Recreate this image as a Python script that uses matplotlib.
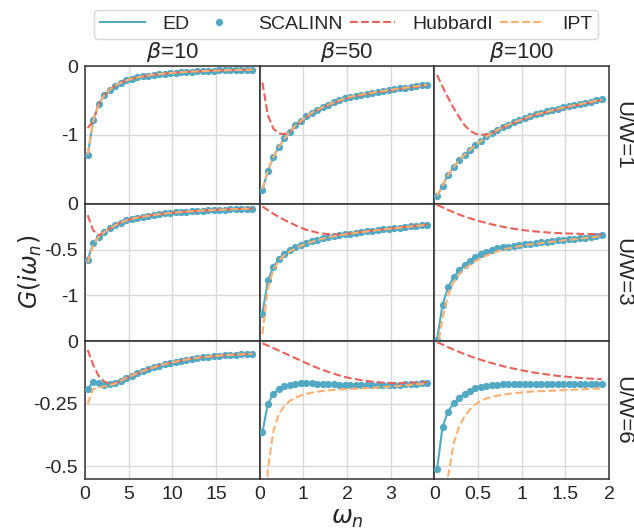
import matplotlib
matplotlib.use("Agg")
import matplotlib.pyplot as plt
from matplotlib.ticker import FormatStrFormatter

plt.rcParams['font.family'] = ['Liberation Sans', 'DejaVu Sans']
plt.rcParams['axes.unicode_minus'] = False

# Matsubara frequencies (31 points per beta)
w10 = [0.314, 0.942, 1.571, 2.199, 2.827, 3.456, 4.084, 4.712, 5.341, 5.969, 6.597,
       7.226, 7.854, 8.482, 9.111, 9.739, 10.367, 10.996, 11.624, 12.252, 12.881,
       13.509, 14.137, 14.765, 15.394, 16.022, 16.650, 17.279, 17.907, 18.535, 19.164]
w50 = [0.063, 0.188, 0.314, 0.440, 0.565, 0.691, 0.817, 0.942, 1.068, 1.194, 1.319,
       1.445, 1.571, 1.696, 1.822, 1.948, 2.073, 2.199, 2.325, 2.450, 2.576, 2.702,
       2.827, 2.953, 3.079, 3.204, 3.330, 3.456, 3.581, 3.707, 3.833]
w100 = [0.031, 0.094, 0.157, 0.220, 0.283, 0.346, 0.408, 0.471, 0.534, 0.597, 0.660,
        0.723, 0.785, 0.848, 0.911, 0.974, 1.037, 1.100, 1.162, 1.225, 1.288, 1.351,
        1.414, 1.476, 1.539, 1.602, 1.665, 1.728, 1.791, 1.853, 1.916]

betas = [10, 50, 100]
us = [1, 3, 6]

# U/W = 1
ed_u1_b10 = [-1.30, -0.79, -0.555, -0.425, -0.343, -0.285, -0.243, -0.210, -0.186, -0.167, -0.151,
             -0.138, -0.127, -0.118, -0.110, -0.102, -0.096, -0.091, -0.086, -0.081, -0.077,
             -0.074, -0.070, -0.067, -0.065, -0.062, -0.060, -0.058, -0.056, -0.054, -0.053]
hub_u1_b10 = [-0.90, -0.80, -0.560, -0.428, -0.345, -0.286, -0.244, -0.211, -0.187, -0.168, -0.152,
              -0.139, -0.128, -0.118, -0.110, -0.103, -0.097, -0.091, -0.086, -0.082, -0.078,
              -0.074, -0.071, -0.068, -0.065, -0.063, -0.060, -0.058, -0.056, -0.055, -0.053]
ipt_u1_b10 = [-1.29, -0.80, -0.560, -0.427, -0.344, -0.286, -0.244, -0.211, -0.187, -0.167, -0.151,
              -0.138, -0.127, -0.118, -0.110, -0.102, -0.096, -0.091, -0.086, -0.081, -0.077,
              -0.074, -0.070, -0.067, -0.065, -0.062, -0.060, -0.058, -0.056, -0.054, -0.053]

ed_u1_b50 = [-1.80, -1.527, -1.32, -1.18, -1.053, -0.957, -0.86, -0.793, -0.73, -0.677, -0.633,
             -0.594, -0.56, -0.526, -0.497, -0.469, -0.445, -0.43, -0.415, -0.40, -0.385,
             -0.372, -0.36, -0.348, -0.336, -0.325, -0.314, -0.303, -0.293, -0.281, -0.269]
hub_u1_b50 = [-0.24, -0.715, -0.91, -0.98, -0.99, -0.955, -0.875, -0.805, -0.74, -0.687, -0.642,
              -0.603, -0.569, -0.536, -0.507, -0.479, -0.455, -0.439, -0.424, -0.409, -0.394,
              -0.381, -0.369, -0.357, -0.345, -0.334, -0.323, -0.312, -0.301, -0.289, -0.276]
ipt_u1_b50 = [-1.79, -1.52, -1.32, -1.18, -1.055, -0.960, -0.865, -0.797, -0.734, -0.680, -0.636,
              -0.597, -0.563, -0.529, -0.500, -0.472, -0.448, -0.432, -0.417, -0.402, -0.387,
              -0.374, -0.362, -0.350, -0.338, -0.327, -0.316, -0.305, -0.295, -0.283, -0.271]

ed_u1_b100 = [-1.894, -1.739, -1.585, -1.469, -1.372, -1.29, -1.217, -1.145, -1.087, -1.024, -0.971,
              -0.925, -0.885, -0.85, -0.815, -0.785, -0.755, -0.725, -0.70, -0.68, -0.66,
              -0.64, -0.62, -0.60, -0.585, -0.565, -0.55, -0.535, -0.52, -0.50, -0.485]
hub_u1_b100 = [-0.13, -0.30, -0.46, -0.61, -0.74, -0.86, -0.94, -0.985, -1.0, -0.995, -0.975,
               -0.935, -0.895, -0.86, -0.825, -0.795, -0.765, -0.735, -0.71, -0.69, -0.67,
               -0.65, -0.63, -0.61, -0.595, -0.575, -0.56, -0.545, -0.53, -0.51, -0.495]
ipt_u1_b100 = [-1.89, -1.735, -1.585, -1.47, -1.375, -1.292, -1.22, -1.148, -1.09, -1.027, -0.974,
               -0.928, -0.888, -0.853, -0.818, -0.788, -0.758, -0.728, -0.703, -0.683, -0.663,
               -0.643, -0.623, -0.603, -0.588, -0.568, -0.553, -0.538, -0.523, -0.503, -0.488]

# U/W = 3
ed_u3_b10 = [-0.609, -0.433, -0.358, -0.31, -0.27, -0.235, -0.207, -0.183, -0.165, -0.152, -0.141,
             -0.131, -0.122, -0.114, -0.107, -0.101, -0.096, -0.091, -0.086, -0.082, -0.078,
             -0.075, -0.072, -0.069, -0.066, -0.064, -0.061, -0.059, -0.057, -0.055, -0.053]
hub_u3_b10 = [-0.125, -0.29, -0.345, -0.312, -0.271, -0.236, -0.208, -0.184, -0.166, -0.152, -0.141,
              -0.131, -0.122, -0.114, -0.107, -0.101, -0.096, -0.091, -0.086, -0.082, -0.078,
              -0.075, -0.072, -0.069, -0.066, -0.064, -0.061, -0.059, -0.057, -0.055, -0.053]
ipt_u3_b10 = [-0.645, -0.44, -0.362, -0.313, -0.272, -0.236, -0.208, -0.184, -0.166, -0.153, -0.142,
              -0.132, -0.123, -0.115, -0.108, -0.102, -0.096, -0.091, -0.086, -0.082, -0.078,
              -0.075, -0.072, -0.069, -0.066, -0.064, -0.061, -0.059, -0.057, -0.055, -0.053]

ed_u3_b50 = [-1.199, -0.837, -0.688, -0.601, -0.543, -0.507, -0.475, -0.449, -0.428, -0.41, -0.391,
             -0.377, -0.362, -0.352, -0.343, -0.334, -0.325, -0.317, -0.309, -0.301, -0.294,
             -0.287, -0.280, -0.273, -0.266, -0.260, -0.253, -0.247, -0.241, -0.235, -0.229]
hub_u3_b50 = [-0.03, -0.07, -0.11, -0.145, -0.177, -0.205, -0.235, -0.26, -0.285, -0.30, -0.315,
              -0.325, -0.332, -0.335, -0.336, -0.332, -0.324, -0.316, -0.308, -0.300, -0.293,
              -0.286, -0.279, -0.272, -0.266, -0.259, -0.253, -0.247, -0.241, -0.235, -0.228]
ipt_u3_b50 = [-1.42, -0.92, -0.72, -0.62, -0.56, -0.52, -0.485, -0.458, -0.436, -0.416, -0.397,
              -0.381, -0.366, -0.355, -0.345, -0.336, -0.327, -0.319, -0.311, -0.303, -0.296,
              -0.289, -0.282, -0.275, -0.268, -0.262, -0.255, -0.249, -0.243, -0.237, -0.231]

ed_u3_b100 = [-1.48, -1.10, -0.913, -0.804, -0.725, -0.667, -0.62, -0.58, -0.551, -0.522, -0.504,
              -0.488, -0.477, -0.467, -0.458, -0.450, -0.442, -0.435, -0.428, -0.421, -0.414,
              -0.407, -0.401, -0.395, -0.389, -0.383, -0.377, -0.370, -0.363, -0.355, -0.345]
hub_u3_b100 = [-0.013, -0.04, -0.068, -0.094, -0.118, -0.14, -0.16, -0.178, -0.195, -0.211, -0.226,
               -0.24, -0.252, -0.263, -0.273, -0.282, -0.29, -0.297, -0.303, -0.308, -0.313,
               -0.317, -0.32, -0.323, -0.325, -0.327, -0.329, -0.33, -0.331, -0.332, -0.333]
ipt_u3_b100 = [-1.60, -1.25, -1.0, -0.86, -0.77, -0.71, -0.665, -0.625, -0.594, -0.565, -0.54,
               -0.52, -0.50, -0.486, -0.474, -0.463, -0.453, -0.444, -0.436, -0.429, -0.421,
               -0.414, -0.407, -0.400, -0.394, -0.388, -0.382, -0.375, -0.368, -0.360, -0.350]

# U/W = 6
ed_u6_b10 = [-0.19, -0.162, -0.168, -0.173, -0.172, -0.167, -0.157, -0.146, -0.137, -0.128, -0.119,
             -0.111, -0.104, -0.097, -0.091, -0.086, -0.081, -0.077, -0.073, -0.069, -0.066,
             -0.063, -0.061, -0.059, -0.057, -0.055, -0.054, -0.053, -0.052, -0.051, -0.050]
hub_u6_b10 = [-0.034, -0.094, -0.138, -0.16, -0.17, -0.168, -0.158, -0.147, -0.137, -0.128, -0.119,
              -0.111, -0.104, -0.097, -0.091, -0.086, -0.081, -0.077, -0.073, -0.069, -0.066,
              -0.063, -0.061, -0.059, -0.057, -0.055, -0.054, -0.053, -0.052, -0.051, -0.050]
ipt_u6_b10 = [-0.25, -0.19, -0.185, -0.18, -0.176, -0.169, -0.158, -0.147, -0.137, -0.128, -0.119,
              -0.111, -0.104, -0.097, -0.091, -0.086, -0.081, -0.077, -0.073, -0.069, -0.066,
              -0.063, -0.061, -0.059, -0.057, -0.055, -0.054, -0.053, -0.052, -0.051, -0.050]

ed_u6_b50 = [-0.364, -0.25, -0.21, -0.19, -0.179, -0.173, -0.17, -0.168, -0.168, -0.168, -0.169,
             -0.170, -0.171, -0.172, -0.173, -0.174, -0.175, -0.175, -0.176, -0.176, -0.176,
             -0.176, -0.175, -0.175, -0.174, -0.173, -0.172, -0.171, -0.169, -0.167, -0.165]
hub_u6_b50 = [-0.008, -0.017, -0.027, -0.037, -0.047, -0.057, -0.067, -0.077, -0.087, -0.097, -0.106,
              -0.114, -0.122, -0.129, -0.136, -0.142, -0.147, -0.151, -0.155, -0.158, -0.161,
              -0.163, -0.165, -0.166, -0.167, -0.167, -0.167, -0.166, -0.165, -0.164, -0.163]
ipt_u6_b50 = [-1.0, -0.51, -0.36, -0.29, -0.258, -0.238, -0.225, -0.216, -0.21, -0.205, -0.201,
              -0.198, -0.196, -0.194, -0.192, -0.191, -0.19, -0.189, -0.188, -0.187, -0.186,
              -0.184, -0.183, -0.181, -0.179, -0.178, -0.176, -0.174, -0.172, -0.170, -0.168]

ed_u6_b100 = [-0.511, -0.341, -0.281, -0.248, -0.225, -0.209, -0.197, -0.188, -0.182, -0.177, -0.175,
              -0.173, -0.172, -0.171, -0.170, -0.170, -0.170, -0.170, -0.170, -0.170, -0.170,
              -0.171, -0.171, -0.171, -0.171, -0.172, -0.172, -0.172, -0.172, -0.172, -0.172]
hub_u6_b100 = [-0.003, -0.013, -0.023, -0.033, -0.042, -0.051, -0.059, -0.067, -0.074, -0.081, -0.087,
               -0.093, -0.099, -0.104, -0.109, -0.114, -0.118, -0.122, -0.126, -0.129, -0.132,
               -0.135, -0.138, -0.14, -0.142, -0.144, -0.146, -0.148, -0.149, -0.15, -0.151]
ipt_u6_b100 = [-2.0, -0.9, -0.54, -0.41, -0.34, -0.30, -0.272, -0.252, -0.238, -0.228, -0.222,
               -0.217, -0.213, -0.21, -0.207, -0.205, -0.203, -0.201, -0.2, -0.199, -0.198,
               -0.197, -0.196, -0.195, -0.194, -0.193, -0.192, -0.191, -0.19, -0.189, -0.188]

freqs = [w10, w50, w100]
ed = [[ed_u1_b10, ed_u1_b50, ed_u1_b100],
      [ed_u3_b10, ed_u3_b50, ed_u3_b100],
      [ed_u6_b10, ed_u6_b50, ed_u6_b100]]
# SCALINN points sit on the ED curve at this resolution
scal = ed
hub = [[hub_u1_b10, hub_u1_b50, hub_u1_b100],
       [hub_u3_b10, hub_u3_b50, hub_u3_b100],
       [hub_u6_b10, hub_u6_b50, hub_u6_b100]]
ipt = [[ipt_u1_b10, ipt_u1_b50, ipt_u1_b100],
       [ipt_u3_b10, ipt_u3_b50, ipt_u3_b100],
       [ipt_u6_b10, ipt_u6_b50, ipt_u6_b100]]

ylims = [(-2.0, 0.0), (-1.5, 0.0), (-0.55, 0.0)]
yticks = [[0, -1], [0, -0.5, -1], [0, -0.25, -0.5]]
xlims = [(0, 20), (0, 4), (0, 2)]
xticks = [[0, 5, 10, 15], [0, 1, 2, 3], [0, 0.5, 1, 1.5, 2]]

c_ed = '#52a9c3'
c_hub = '#e8625c'
c_ipt = '#fdb070'

fig, axes = plt.subplots(3, 3, figsize=(6.34, 5.31), dpi=100, sharex='col', sharey='row')
fig.subplots_adjust(left=0.134, right=0.9606, top=0.8757, bottom=0.0979, wspace=0, hspace=0)

for i in range(3):
    for j in range(3):
        ax = axes[i, j]
        x = freqs[j]
        ax.plot(x, ed[i][j], color=c_ed, lw=1.5, label='ED', zorder=2)
        ax.plot(x, scal[i][j], 'o', color=c_ed, ms=4.2, label='SCALINN', zorder=3)
        ax.plot(x, hub[i][j], '--', color=c_hub, lw=1.5, label='HubbardI', zorder=4)
        ax.plot(x, ipt[i][j], '--', color=c_ipt, lw=1.5, label='IPT', zorder=5)
        ax.set_xlim(*xlims[j])
        ax.set_ylim(*ylims[i])
        ax.set_xticks(xticks[j])
        ax.set_yticks(yticks[i])
        ax.xaxis.set_major_formatter(FormatStrFormatter('%g'))
        ax.yaxis.set_major_formatter(FormatStrFormatter('%g'))
        ax.grid(True, color='#d9d9d9', lw=1.0)
        ax.set_axisbelow(True)
        ax.tick_params(length=0, labelsize=14, labelcolor='#262626', pad=5)
        for sp in ax.spines.values():
            sp.set_color('#333333')
            sp.set_linewidth(1.1)
        if i == 0:
            ax.set_title(r'$\beta$=%d' % betas[j], fontsize=16, color='#262626', pad=6)

row_centers = [135, 272.5, 410]
for i in range(3):
    fig.text(623 / 634, 1 - row_centers[i] / 531, 'U/W=%d' % us[i], rotation=270,
             ha='center', va='center', fontsize=16, color='#262626')

fig.text(30 / 634, 1 - 272 / 531, r'$G(i\omega_n)$', rotation=90, ha='center', va='center',
         fontsize=17, color='#262626')
fig.text(347 / 634, 1 - 518 / 531, r'$\omega_n$', ha='center', va='center',
         fontsize=18, color='#262626')

handles, labels = axes[0, 0].get_legend_handles_labels()
leg = fig.legend(handles, labels, loc='upper center', bbox_to_anchor=(0.546, 1.0), ncol=4,
                 fontsize=14, handlelength=2.3, handletextpad=0.9, columnspacing=0.35,
                 frameon=True, fancybox=True, edgecolor='#cccccc', borderpad=0.3)
for t in leg.get_texts():
    t.set_color('#262626')

fig.savefig('out.png', dpi=100)
